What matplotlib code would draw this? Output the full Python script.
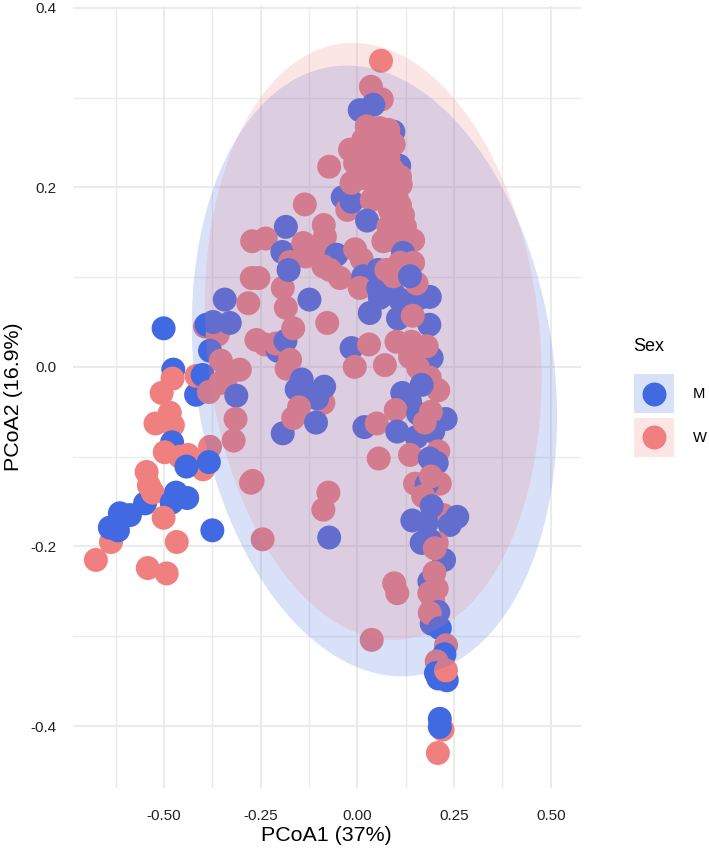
import matplotlib
matplotlib.use("Agg")
import matplotlib.pyplot as plt
from matplotlib.patches import Ellipse, Rectangle
from matplotlib.ticker import FixedLocator

plt.rcParams["font.family"] = ["Liberation Sans", "DejaVu Sans"]

# PCoA scores per sample, in plotting order (later samples sit on top)
pcoa1 = [
    -0.501, -0.476, -0.478, -0.506, -0.485, -0.522, -0.477, -0.479, -0.498, -0.459, -0.438, -0.381,
    -0.399, -0.442, -0.384, -0.549, -0.545, -0.539, -0.529, -0.480, -0.469, -0.440, -0.637, -0.614,
    -0.588, -0.640, -0.619, -0.501, -0.467, -0.676, -0.542, -0.493, -0.375, -0.245, -0.271, -0.275,
    -0.343, -0.282, -0.394, -0.390, -0.361, -0.373, -0.330, -0.381, -0.353, -0.417, -0.416, -0.400,
    -0.384, -0.355, -0.338, -0.304, -0.313, -0.315, -0.320, -0.193, -0.261, -0.239, -0.206, -0.211,
    -0.186, -0.183, -0.174, -0.185, -0.166, -0.193, -0.273, -0.256, -0.124, -0.078, -0.088, -0.144,
    -0.157, -0.128, -0.086, -0.104, -0.151, -0.166, -0.107, -0.075, -0.088, -0.073, 0.061, 0.035,
    0.063, 0.006, 0.041, 0.093, 0.024, 0.058, 0.080, 0.094, -0.019, 0.015, 0.050, -0.073,
    0.108, -0.006, 0.041, 0.110, 0.112, -0.038, -0.026, -0.015, -0.015, 0.045, 0.075, -0.136,
    0.037, 0.101, 0.084, 0.025, 0.118, 0.080, 0.123, -0.185, -0.087, 0.067, 0.144, -0.272,
    -0.237, -0.194, -0.084, -0.140, -0.105, -0.133, -0.054, -0.006, 0.011, -0.174, -0.178, -0.088,
    0.030, 0.060, 0.080, 0.020, 0.060, 0.090, 0.050, 0.100, 0.090, 0.110, 0.100, 0.120,
    -0.071, -0.045, 0.118, 0.054, 0.015, 0.006, 0.054, 0.093, 0.058, 0.187, 0.032, 0.105,
    0.186, 0.110, 0.162, 0.075, 0.110, 0.144, 0.093, 0.153, 0.136, 0.143, -0.015, 0.030,
    -0.007, 0.071, 0.101, 0.192, 0.140, 0.179, 0.136, 0.157, 0.187, 0.209, 0.116, 0.136,
    0.166, 0.099, 0.228, 0.157, 0.190, 0.196, 0.153, 0.174, 0.018, 0.050, 0.103, 0.055,
    0.136, 0.209, 0.187, 0.205, 0.149, 0.213, 0.179, 0.190, 0.170, 0.222, 0.192, 0.142,
    0.239, 0.258, 0.179, 0.205, 0.166, 0.187, 0.224, 0.200, 0.095, 0.103, 0.186, 0.205,
    0.199, 0.186, 0.196, 0.209, 0.192, 0.187, 0.213, 0.037, 0.229, 0.225, 0.205, 0.203,
    0.209, 0.231, 0.229, 0.220, 0.213, 0.213, 0.208,
]
pcoa2 = [
    0.043, -0.003, -0.013, -0.029, -0.051, -0.063, -0.065, -0.084, -0.095, -0.100, -0.098, -0.089,
    -0.114, -0.111, -0.106, -0.152, -0.117, -0.132, -0.140, -0.151, -0.140, -0.146, -0.195, -0.163,
    -0.165, -0.179, -0.182, -0.168, -0.195, -0.215, -0.224, -0.230, -0.182, -0.192, -0.127, -0.129,
    0.075, 0.071, 0.045, 0.047, 0.036, 0.050, 0.049, 0.018, 0.007, -0.031, -0.010, -0.009,
    -0.028, -0.018, -0.011, -0.003, -0.032, -0.058, -0.082, -0.074, 0.030, 0.025, 0.018, 0.026,
    0.029, -0.002, 0.008, 0.066, 0.043, 0.088, 0.099, 0.099, 0.075, 0.049, -0.040, -0.014,
    -0.025, -0.029, -0.022, -0.035, -0.045, -0.057, -0.062, -0.140, -0.159, -0.190, 0.341, 0.312,
    0.298, 0.286, 0.292, 0.262, 0.268, 0.266, 0.264, 0.248, 0.242, 0.253, 0.245, 0.223,
    0.224, 0.227, 0.227, 0.212, 0.203, 0.189, 0.175, 0.184, 0.205, 0.208, 0.201, 0.181,
    0.186, 0.190, 0.175, 0.163, 0.169, 0.156, 0.156, 0.156, 0.158, 0.140, 0.141, 0.140,
    0.143, 0.128, 0.145, 0.138, 0.134, 0.123, 0.125, 0.131, 0.120, 0.117, 0.108, 0.112,
    0.230, 0.230, 0.235, 0.210, 0.210, 0.220, 0.190, 0.200, 0.170, 0.180, 0.140, 0.130,
    0.108, 0.099, 0.127, 0.108, 0.101, 0.088, 0.088, 0.082, 0.077, 0.078, 0.060, 0.054,
    0.047, 0.075, 0.077, 0.108, 0.116, 0.116, 0.101, 0.093, 0.101, 0.057, 0.021, 0.025,
    0.000, 0.002, 0.028, 0.010, 0.028, 0.023, 0.011, -0.001, -0.012, -0.026, -0.029, -0.039,
    -0.020, -0.048, -0.058, -0.052, -0.050, -0.072, -0.078, -0.062, -0.067, -0.063, -0.072, -0.102,
    -0.098, -0.094, -0.102, -0.107, -0.130, -0.130, -0.131, -0.122, -0.144, -0.165, -0.155, -0.171,
    -0.176, -0.167, -0.174, -0.196, -0.196, -0.193, -0.215, -0.202, -0.241, -0.252, -0.239, -0.247,
    -0.229, -0.252, -0.261, -0.273, -0.286, -0.274, -0.291, -0.304, -0.310, -0.320, -0.328, -0.341,
    -0.347, -0.349, -0.338, -0.404, -0.392, -0.401, -0.430,
]
sex = list(
    "MMWWWWWMWWWW"
    "WMMMWWWMMMWM"
    "MMMWWWWWMWWW"
    "MWWMWMMMWMWM"
    "WWWWMWWMWWMW"
    "MWWWWWWWMWWM"
    "MMMMWWMWWMWW"
    "WMMMWWWWWWWW"
    "MWWWWMWMWWWW"
    "WWWMWWWMWWWW"
    "WMWWWWMWWWMW"
    "WWWWWWWWWWWW"
    "WWMMMWMMMMMM"
    "MMMWWWWWMWMW"
    "WWWMWWWWWWMM"
    "MWMMWMMWMWMW"
    "WWMMWWMWWWMM"
    "MMMWMMMWWWMW"
    "WWWMMWMWWMWM"
    "MMWWMMW"
)

# Per-sex 95% ellipses: centre, full axes, rotation in data units
sex_levels = ["M", "W"]
sex_colors = ["#4169E1", "#F08080"]
ellipse_center = [(0.044, -0.0045), (0.041, 0.0285)]
ellipse_width = [0.955, 0.879]
ellipse_height = [0.665, 0.654]
ellipse_angle = [-12.1, -11.8]

x_major = [-0.50, -0.25, 0.00, 0.25, 0.50]
x_minor = [-0.625, -0.375, -0.125, 0.125, 0.375]
y_major = [-0.4, -0.2, 0.0, 0.2, 0.4]
y_minor = [-0.3, -0.1, 0.1, 0.3]

point_colors = [sex_colors[sex_levels.index(s)] for s in sex]

fig = plt.figure(figsize=(7.09, 8.49), dpi=100)
ax = fig.add_axes([72.7 / 709, 61 / 849, (581 - 72.7) / 709, (843 - 61) / 849])

ax.scatter(pcoa1, pcoa2, c=point_colors, s=298, linewidths=0, zorder=2)

for i in range(len(sex_levels)):
    ax.add_patch(Ellipse(ellipse_center[i], ellipse_width[i], height=ellipse_height[i],
                         angle=ellipse_angle[i], facecolor=sex_colors[i], alpha=0.2,
                         edgecolor="none", zorder=3))

ax.set_xlim(-0.736, 0.578)
ax.set_ylim(-0.469, 0.402)

# theme_minimal style grid
ax.xaxis.set_major_locator(FixedLocator(x_major))
ax.xaxis.set_minor_locator(FixedLocator(x_minor))
ax.yaxis.set_major_locator(FixedLocator(y_major))
ax.yaxis.set_minor_locator(FixedLocator(y_minor))
ax.set_xticklabels(["%.2f" % v for v in x_major])
ax.set_yticklabels(["%.1f" % v for v in y_major])
ax.grid(which="major", color="#ebebeb", linewidth=1.5)
ax.grid(which="minor", color="#ebebeb", linewidth=1.0)
ax.set_axisbelow(True)
ax.tick_params(which="both", length=0)
ax.tick_params(axis="x", labelsize=11, labelcolor="#222222", pad=15)
ax.tick_params(axis="y", labelsize=11, labelcolor="#222222", pad=12)
for spine in ax.spines.values():
    spine.set_visible(False)

ax.set_xlabel("PCoA1 (37%)", fontsize=15.4, labelpad=2.5)
ax.set_ylabel("PCoA2 (16.9%)", fontsize=15.4, labelpad=5)

# Legend panel laid out in pixel units over the figure
leg = fig.add_axes([0, 0, 1, 1], facecolor="none")
leg.set_xlim(0, 709)
leg.set_ylim(849, 0)
leg.axis("off")
leg.text(633, 346.5, "Sex", fontsize=13, va="center", ha="left")
key_top = [374, 417.7]
for i in range(len(sex_levels)):
    leg.add_patch(Rectangle((634, key_top[i]), 40, 39, facecolor=sex_colors[i], alpha=0.2,
                            edgecolor="none"))
    leg.scatter([654], [key_top[i] + 19.5], s=298, color=sex_colors[i], linewidths=0)
    leg.text(692.7, key_top[i] + 20, sex_levels[i], fontsize=10.6, va="center", ha="left")

fig.savefig("out.png", dpi=100)
